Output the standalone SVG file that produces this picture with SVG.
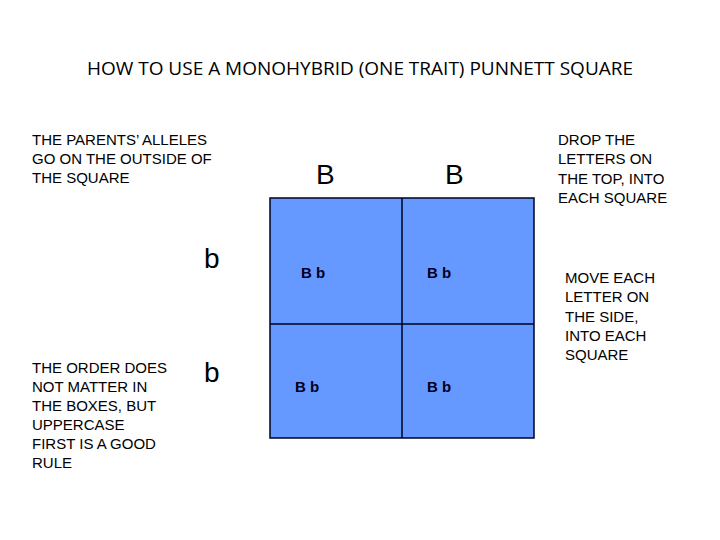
<svg xmlns="http://www.w3.org/2000/svg" width="720" height="540" viewBox="0 0 720 540">
<style>
.t{font-family:"Liberation Sans",Arial,sans-serif;font-size:15px;fill:#000}
.big{font-family:"Liberation Sans",Arial,sans-serif;font-size:28px;fill:#000}
.cell{font-family:"Liberation Sans",Arial,sans-serif;font-size:15px;font-weight:bold;fill:#000022}
</style>
<rect width="720" height="540" fill="#fff"/>
<text x="360" y="75" text-anchor="middle" style="font-family:'Open Sans','Liberation Sans',sans-serif;font-size:19px" fill="#000">HOW TO USE A MONOHYBRID (ONE TRAIT) PUNNETT SQUARE</text>
<g id="note-parents" class="t"><text class="t" x="32" y="145">THE PARENTS’ ALLELES</text><text class="t" x="32" y="164">GO ON THE OUTSIDE OF</text><text class="t" x="32" y="183">THE SQUARE</text></g>
<g id="note-order"><text class="t" x="32" y="373">THE ORDER DOES</text><text class="t" x="32" y="392">NOT MATTER IN</text><text class="t" x="32" y="411">THE BOXES, BUT</text><text class="t" x="32" y="430">UPPERCASE</text><text class="t" x="32" y="449">FIRST IS A GOOD</text><text class="t" x="32" y="468">RULE</text></g>
<g id="note-drop"><text class="t" x="558" y="145">DROP THE</text><text class="t" x="558" y="164">LETTERS ON</text><text class="t" x="558" y="184">THE TOP, INTO</text><text class="t" x="558" y="203">EACH SQUARE</text></g>
<g id="note-move"><text class="t" x="565" y="283">MOVE EACH</text><text class="t" x="565" y="302">LETTER ON</text><text class="t" x="565" y="322">THE SIDE,</text><text class="t" x="565" y="341">INTO EACH</text><text class="t" x="565" y="360">SQUARE</text></g>
<g id="alleles"><text class="big" x="316" y="184">B</text><text class="big" x="445" y="184">B</text><text class="big" x="204" y="268">b</text><text class="big" x="204" y="382">b</text></g>
<g id="square">
<rect x="270" y="198" width="264" height="240" fill="#6699ff" stroke="#000022" stroke-width="1.5"/>
<line x1="402" y1="198" x2="402" y2="438" stroke="#000022" stroke-width="1.5"/>
<line x1="270" y1="324" x2="534" y2="324" stroke="#000022" stroke-width="1.5"/>
</g>
<g id="cells"><text class="cell" x="301" y="278">B  b</text><text class="cell" x="427" y="278">B    b</text><text class="cell" x="295" y="392">B  b</text><text class="cell" x="427" y="392">B    b</text></g>
</svg>
